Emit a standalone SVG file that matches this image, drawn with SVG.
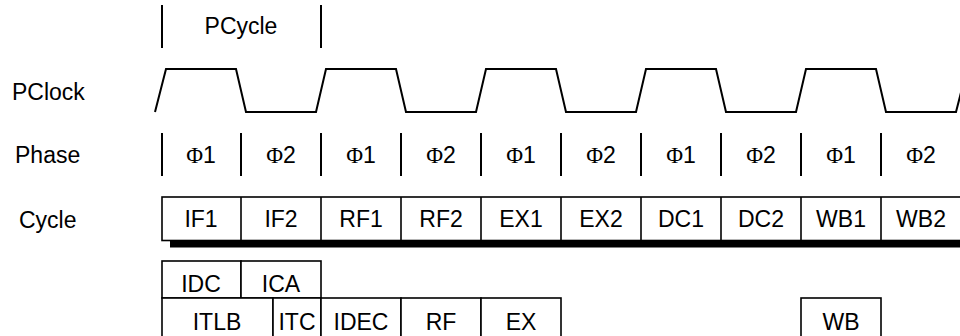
<svg xmlns="http://www.w3.org/2000/svg" width="960" height="336" viewBox="0 0 960 336">
<style>
text{font-family:"Liberation Sans",Arial,sans-serif;font-size:23px;fill:#000}
.c{text-anchor:middle}
.phi{font-family:"Liberation Serif","Times New Roman",serif}
.ln{stroke:#000;stroke-width:2;fill:none}
.box{stroke:#000;stroke-width:1.6;fill:#fff}
</style>
<rect width="960" height="336" fill="#fff"/>
<g id="labels">
<text x="12" y="100">PClock</text>
<text x="15" y="163">Phase</text>
<text x="19" y="228">Cycle</text>
</g>
<g id="pcycle">
<line class="ln" x1="162" y1="5" x2="162" y2="48"/>
<line class="ln" x1="321" y1="5" x2="321" y2="48"/>
<text class="c" x="241" y="34">PCycle</text>
</g>
<g id="pclock">
<polyline class="ln" stroke-linejoin="miter" points="155,112 166,69 236,69 246,112 316,112 326,69 396,69 406,112 476,112 486,69 556,69 566,112 636,112 646,69 716,69 726,112 796,112 806,69 876,69 886,112 956,112 967,69"/>
</g>
<g id="phase">
<g class="ln">
<line x1="162" y1="133" x2="162" y2="176"/>
<line x1="241" y1="133" x2="241" y2="176"/>
<line x1="321" y1="133" x2="321" y2="176"/>
<line x1="401" y1="133" x2="401" y2="176"/>
<line x1="481" y1="133" x2="481" y2="176"/>
<line x1="561" y1="133" x2="561" y2="176"/>
<line x1="641" y1="133" x2="641" y2="176"/>
<line x1="721" y1="133" x2="721" y2="176"/>
<line x1="801" y1="133" x2="801" y2="176"/>
<line x1="881" y1="133" x2="881" y2="176"/>
</g>
<text class="c" x="201" y="163"><tspan class="phi">Φ</tspan>1</text>
<text class="c" x="281" y="163"><tspan class="phi">Φ</tspan>2</text>
<text class="c" x="361" y="163"><tspan class="phi">Φ</tspan>1</text>
<text class="c" x="441" y="163"><tspan class="phi">Φ</tspan>2</text>
<text class="c" x="521" y="163"><tspan class="phi">Φ</tspan>1</text>
<text class="c" x="601" y="163"><tspan class="phi">Φ</tspan>2</text>
<text class="c" x="681" y="163"><tspan class="phi">Φ</tspan>1</text>
<text class="c" x="761" y="163"><tspan class="phi">Φ</tspan>2</text>
<text class="c" x="841" y="163"><tspan class="phi">Φ</tspan>1</text>
<text class="c" x="921" y="163"><tspan class="phi">Φ</tspan>2</text>
</g>
<g id="cycle">
<rect x="170" y="241" width="800" height="6.5" fill="#000"/>
<rect class="box" x="162" y="197" width="800" height="43.5"/>
<g class="ln" style="stroke-width:1.6">
<line x1="241" y1="197" x2="241" y2="240.5"/>
<line x1="321" y1="197" x2="321" y2="240.5"/>
<line x1="401" y1="197" x2="401" y2="240.5"/>
<line x1="481" y1="197" x2="481" y2="240.5"/>
<line x1="561" y1="197" x2="561" y2="240.5"/>
<line x1="641" y1="197" x2="641" y2="240.5"/>
<line x1="721" y1="197" x2="721" y2="240.5"/>
<line x1="801" y1="197" x2="801" y2="240.5"/>
<line x1="881" y1="197" x2="881" y2="240.5"/>
</g>
<text class="c" x="201" y="227">IF1</text>
<text class="c" x="281" y="227">IF2</text>
<text class="c" x="361" y="227">RF1</text>
<text class="c" x="441" y="227">RF2</text>
<text class="c" x="521" y="227">EX1</text>
<text class="c" x="601" y="227">EX2</text>
<text class="c" x="681" y="227">DC1</text>
<text class="c" x="761" y="227">DC2</text>
<text class="c" x="841" y="227">WB1</text>
<text class="c" x="921" y="227">WB2</text>
</g>
<g id="idc"><rect class="box" x="162" y="261" width="79" height="37"/><text class="c" x="201" y="292">IDC</text></g>
<g id="ica"><rect class="box" x="241" y="261" width="80" height="37"/><text class="c" x="281" y="292">ICA</text></g>
<g id="itlb"><rect class="box" x="162" y="298" width="111" height="45"/><text class="c" x="217" y="330">ITLB</text></g>
<g id="itc"><rect class="box" x="273" y="298" width="48" height="45"/><text class="c" x="297" y="330">ITC</text></g>
<g id="idec"><rect class="box" x="321" y="298" width="80" height="45"/><text class="c" x="361" y="330">IDEC</text></g>
<g id="rf"><rect class="box" x="401" y="298" width="80" height="45"/><text class="c" x="441" y="330">RF</text></g>
<g id="ex"><rect class="box" x="481" y="298" width="80" height="45"/><text class="c" x="521" y="330">EX</text></g>
<g id="wb"><rect class="box" x="801" y="298" width="80" height="45"/><text class="c" x="841" y="330">WB</text></g>
</svg>
